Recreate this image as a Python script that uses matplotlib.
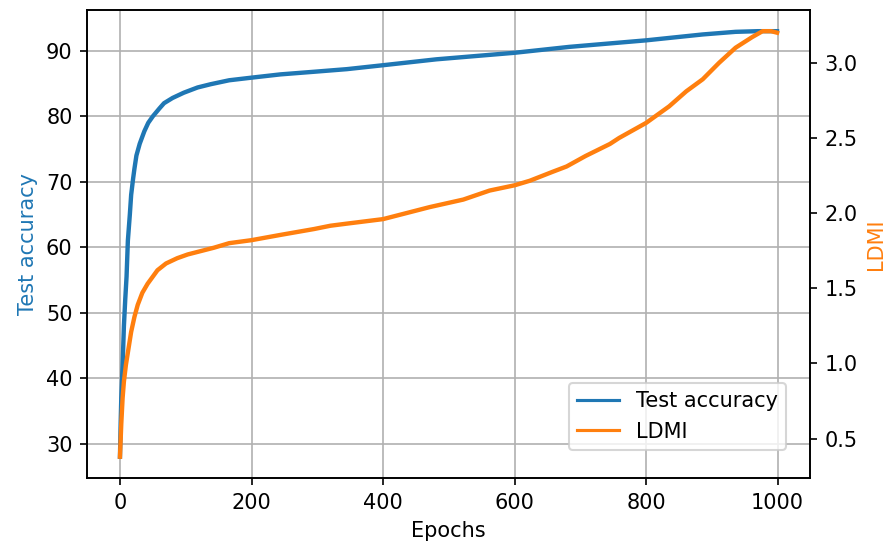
import matplotlib
matplotlib.use("Agg")
import matplotlib.pyplot as plt

# Test accuracy (left axis)
acc_epochs = [0, 1, 2, 4, 6, 8, 10, 12, 15, 17, 20, 22, 25, 30, 37, 43, 50, 60, 67, 80,
              97, 118, 138, 166, 200, 244, 295, 345, 400, 481, 600, 683,
              800, 886, 936, 970, 999]
acc_values = [28.0, 33.0, 37.0, 42.0, 48.0, 52.0, 55.5, 61.0, 65.0, 68.0, 70.5, 72.0,
              74.0, 75.8, 77.7, 79.0, 80.0, 81.2, 82.0, 82.8,
              83.6, 84.4, 84.9, 85.5, 85.9, 86.4, 86.8, 87.2, 87.8, 88.7, 89.7, 90.6,
              91.6, 92.5, 92.9, 93.0, 93.0]

# LDMI (right axis)
ldmi_epochs = [0, 2, 4, 6, 9, 13, 17, 22, 27, 34, 42, 47, 57, 70, 87, 103, 143, 166,
               200, 244, 295, 320, 345, 400, 471, 522, 562, 600, 623, 658, 679, 708,
               745, 759, 800, 835, 861, 886, 911, 936, 961, 977, 990, 999]
ldmi_values = [0.38, 0.60, 0.77, 0.88, 0.99, 1.10, 1.21, 1.31, 1.39, 1.47, 1.53, 1.56,
               1.62, 1.665, 1.70, 1.725, 1.77, 1.80, 1.82, 1.855, 1.894, 1.916, 1.93,
               1.96, 2.04, 2.09, 2.15, 2.185, 2.215, 2.275, 2.31, 2.38, 2.46, 2.50,
               2.60, 2.71, 2.81, 2.89, 3.00, 3.10, 3.17, 3.21, 3.21, 3.20]

DPI = 150
fig = plt.figure(figsize=(889 / DPI, 550 / DPI), dpi=DPI)
ax1 = fig.add_axes([0.098, 0.131, 0.813, 0.851])
ax2 = ax1.twinx()

l1, = ax1.plot(acc_epochs, acc_values, color="tab:blue", lw=2.1, label="Test accuracy")
l2, = ax2.plot(ldmi_epochs, ldmi_values, color="tab:orange", lw=2.1, label="LDMI")

ax1.grid(True)
ax1.set_xlabel("Epochs")
ax1.set_ylabel("Test accuracy", color="tab:blue")
ax2.set_ylabel("LDMI", color="tab:orange")
ax1.set_xticks([0, 200, 400, 600, 800, 1000])
ax1.set_yticks([30, 40, 50, 60, 70, 80, 90])
ax2.set_yticks([0.5, 1.0, 1.5, 2.0, 2.5, 3.0])

leg = ax2.legend([l1, l2], ["Test accuracy", "LDMI"], loc="lower right",
                 bbox_to_anchor=(0.967, 0.06), borderaxespad=0)
for h in leg.get_lines():
    h.set_linewidth(1.5)

fig.savefig("out.png", dpi=DPI)
